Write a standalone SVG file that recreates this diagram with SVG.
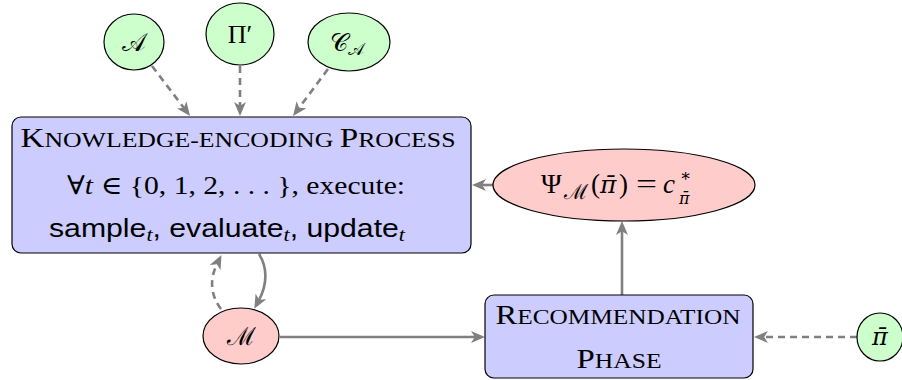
<svg xmlns="http://www.w3.org/2000/svg" width="902" height="380" viewBox="0 0 902 380">
<defs>
<marker id="ah" markerUnits="userSpaceOnUse" markerWidth="14" markerHeight="12" viewBox="0 0 14 12" refX="4" refY="6" orient="auto">
<path d="M0,0 L14,6 L0,12 L3.8,6 Z" fill="#808080"/>
</marker>
<style>
.box{fill:#ccccff;stroke:#000;stroke-width:1.2}
.grn{fill:#ccffcc;stroke:#000;stroke-width:1.2}
.red{fill:#ffcccc;stroke:#000;stroke-width:1.2}
.c{fill:none;stroke:#808080;stroke-width:2.6;marker-end:url(#ah)}
.d{stroke-dasharray:7 5}
text{font-family:"Liberation Serif","DejaVu Serif",serif;fill:#000;text-anchor:middle}
.s{text-anchor:start}
.it{font-style:italic}
.pb{font-family:"DejaVu Serif",serif;font-style:italic}
.sf{font-family:"Liberation Sans","DejaVu Sans",sans-serif}
.cal{font-family:"DejaVu Serif","Liberation Serif",serif}
</style>
</defs>
<g id="connectors">
<path class="c d" d="M152,66 L184,108"/>
<path class="c d" d="M240,66 L240,106"/>
<path class="c d" d="M328,69 L299,108"/>
<path class="c" d="M493,185 L482,185"/>
<path class="c" d="M622,295 L622,231"/>
<path class="c" d="M280,337 L475,337"/>
<path class="c d" d="M857,337 L764,337"/>
<path class="c d" d="M221,309 C211,296 209,280 217,264"/>
<path class="c" d="M259,254 C268,268 267,285 259,300"/>
</g>
<g id="nodeA">
<ellipse class="grn" cx="134" cy="42" rx="30" ry="28"/>
<text class="cal" x="134" y="51" font-size="25">𝒜</text>
</g>
<g id="nodePi">
<ellipse class="grn" cx="240" cy="34" rx="34" ry="31"/>
<text x="240" y="43" font-size="26">Π′</text>
</g>
<g id="nodeCA">
<ellipse class="grn" cx="349" cy="42" rx="41" ry="29"/>
<text class="cal" x="347" y="51" font-size="25">𝒞<tspan font-size="17" dy="4">𝒜</tspan></text>
</g>
<g id="knowledge">
<rect class="box" x="12" y="117" width="459" height="136" rx="9"/>
<text x="238" y="147" font-size="27" textLength="435" lengthAdjust="spacingAndGlyphs">K<tspan font-size="21">NOWLEDGE-ENCODING </tspan>P<tspan font-size="21">ROCESS</tspan></text>
<text x="236" y="194" font-size="26" textLength="338" lengthAdjust="spacingAndGlyphs">∀<tspan class="it">t</tspan> ∈ {0, 1, 2, . . . }, execute:</text>
<text class="sf" x="227" y="237" font-size="26" textLength="356" lengthAdjust="spacingAndGlyphs">sample<tspan font-family="Liberation Serif" font-style="italic" font-size="19" dy="4">t</tspan><tspan dy="-4">, evaluate</tspan><tspan font-family="Liberation Serif" font-style="italic" font-size="19" dy="4">t</tspan><tspan dy="-4">, update</tspan><tspan font-family="Liberation Serif" font-style="italic" font-size="19" dy="4">t</tspan></text>
</g>
<g id="psi">
<ellipse class="red" cx="624" cy="185" rx="131" ry="36"/>
<text class="s" x="541" y="193" font-size="28">Ψ</text>
<text class="s cal" x="564" y="199" font-size="21">ℳ</text>
<text class="s" x="591" y="193" font-size="27">(</text>
<text class="s pb" x="600" y="193" font-size="25">π̄</text>
<text class="s" x="619" y="193" font-size="27">)</text>
<text class="s" x="636" y="193" font-size="27" textLength="21" lengthAdjust="spacingAndGlyphs">=</text>
<text class="s it" x="663" y="193" font-size="27">c</text>
<text class="s" x="680" y="181" font-size="17">∗</text>
<text class="s pb" x="679" y="204" font-size="16">π̄</text>
</g>
<g id="nodeM">
<ellipse class="red" cx="241" cy="336" rx="38" ry="28"/>
<text class="cal" x="241" y="345" font-size="25">ℳ</text>
</g>
<g id="recommendation">
<rect class="box" x="485" y="295" width="268" height="83" rx="9"/>
<text x="618" y="324" font-size="27" textLength="245" lengthAdjust="spacingAndGlyphs">R<tspan font-size="21">ECOMMENDATION</tspan></text>
<text x="619" y="368" font-size="27" textLength="85" lengthAdjust="spacingAndGlyphs">P<tspan font-size="21">HASE</tspan></text>
</g>
<g id="nodePibar">
<ellipse class="grn" cx="880" cy="337" rx="23" ry="24"/>
<text class="pb" x="880" y="345" font-size="24">π̄</text>
</g>
</svg>
